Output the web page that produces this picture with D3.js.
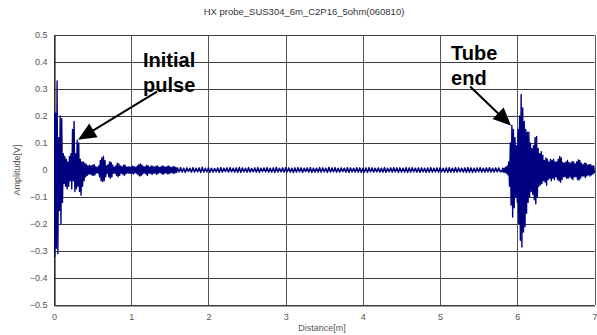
<!DOCTYPE html>
<html><head><meta charset="utf-8">
<script src="https://cdn.jsdelivr.net/npm/d3@7"></script>
<style>body{margin:0;background:#fff}svg{display:block}</style>
</head><body>
<svg id="chart" width="597" height="335"></svg>
<script>
// ---------- data ----------
const chartTitle = "HX probe_SUS304_6m_C2P16_5ohm(060810)";
const xLabel = "Distance[m]";
const yLabel = "Amplitude[V]";
const xTicks = [0, 1, 2, 3, 4, 5, 6, 7];
const yTicks = [-0.5, -0.4, -0.3, -0.2, -0.1, 0, 0.1, 0.2, 0.3, 0.4, 0.5];

// waveform samples (mV); each block: start distance [m], sample step [m]
const pulseStart = 0, pulseStep = 0.01;
const pulseMv = [
 220,-320,210,-290,330,-310,120,-150,200,-200,
 190,-120,60,-50,50,-60,40,-70,30,-60,
 50,-40,60,-70,150,-40,180,-80,60,-70,
 110,-60,100,-80,40,-93,30,-60,30,-40,
 25,-25,20,-20,15,-15,18,-15,15,-18,
 18,-20,20,-18,12,-10,10,-12,15,-25,
 35,-40,45,-43,50,-40,35,-25,15,-12,
 20,-25,30,-30,28,-25,18,-12,10,-12,
 15,-20,25,-25,22,-20,15,-12,12,-15,
 18,-20,18,-15,10,-10,12,-12,10,-12,
 12,-12,14,-15,12,-10,10,-12,15,-18,
 20,-22,22,-20,18,-15,12,-10,12,-15,
 18,-20,15,-12,10,-12,15,-16,14,-12,
 10,-12,14,-16,15,-12,10,-9,10,-12,
 15,-16,14,-12,10,-10,12,-14,15,-14,
 12,-10,9,-10,12,-13,12,-10,9,-9
];
const quietStart = 1.6, quietStep = 0.02;
const quietMv = [
 8,-7,9,-8,7,-9,8,-6,7,-8,
 9,-8,7,-7,8,-9,10,-8,7,-7,
 8,-9,7,-8,6,-7,8,-9,9,-8,
 7,-6,8,-8,9,-7,7,-8,8,-9,
 10,-9,8,-7,7,-8,9,-8,6,-7,
 8,-8,9,-9,7,-6,8,-7,9,-8,
 7,-8,8,-9,10,-8,7,-7,8,-8,
 9,-7,8,-8,7,-9,8,-8,9,-7,
 8,-9,7,-6,8,-8,9,-9,7,-8,
 7,-8,9,-8,8,-7,7,-9,10,-8,
 8,-7,9,-8,7,-8,8,-6,7,-8,
 9,-9,8,-7,7,-8,9,-8,8,-9,
 7,-8,8,-9,9,-7,8,-8,7,-7,
 8,-8,7,-8,9,-9,7,-7,8,-8,
 9,-7,8,-9,8,-8,7,-8,9,-9,
 8,-8,9,-7,7,-8,8,-9,8,-7,
 7,-9,8,-8,9,-8,7,-7,8,-8,
 8,-7,7,-8,8,-9,9,-8,7,-8,
 9,-8,8,-7,7,-8,8,-9,9,-8,
 8,-9,7,-8,8,-7,9,-8,7,-8,
 8,-7,9,-8,7,-8,8,-7,8,-7
];
const echoStart = 5.8, echoStep = 0.01;
const echoMv = [
 -6,7,-8,7,-9,10,-12,15,-18,30,
 -60,100,-130,165,-174,150,-140,120,-100,90,
 -120,150,-200,200,-260,280,-285,230,-230,180,
 -210,150,-160,140,-120,140,-100,100,-80,80,
 -90,90,-110,120,-125,124,-100,80,-60,60,
 -55,68,-50,55,-40,35,-45,45,-56,40,
 -35,30,-30,40,-40,35,-30,40,-35,30,
 -25,30,-35,40,-40,50,-45,45,-35,28,
 -25,25,-25,30,-30,35,-30,28,-25,25,
 -30,32,-35,30,-25,22,-25,30,-35,37,
 -37,35,-30,25,-22,20,-22,25,-28,25,
 -22,18,-18,20,-22,20,-18,15,-15,15,
 -12
];

// annotations in data coordinates (distance m, amplitude V)
const annotationText = [["Initial", "pulse"], ["Tube", "end"]];
const annotationAnchor = [[1.153, 0.383], [5.143, 0.409]];
const arrowFrom = [[1.334, 0.290], [5.389, 0.309]];
const arrowTo = [[0.311, 0.112], [5.920, 0.164]];

// ---------- drawing ----------
const svg = d3.select("#chart");
const L = 54, R = 594.5, T = 35, B = 305;
const x = d3.scaleLinear().domain([0, 7]).range([L, R]);
const y = d3.scaleLinear().domain([-0.5, 0.5]).range([B, T]);
const font = "'Liberation Sans', Arial, sans-serif";
const crisp = v => Math.round(v) + 0.5;

svg.append("rect").attr("width", 597).attr("height", 335).attr("fill", "#fff");

svg.append("text").attr("x", 304).attr("y", 15).attr("text-anchor", "middle")
  .attr("font-family", font).attr("font-size", 9.5).attr("fill", "#333").text(chartTitle);

// grid
const g = svg.append("g");
g.selectAll("line.h").data(yTicks).join("line").attr("class", "h")
  .attr("x1", L).attr("x2", R).attr("y1", d => crisp(y(d))).attr("y2", d => crisp(y(d)))
  .attr("stroke", "#3a3a3a").attr("stroke-width", 1);
g.selectAll("line.v").data(xTicks).join("line").attr("class", "v")
  .attr("y1", T).attr("y2", B).attr("x1", d => crisp(x(d))).attr("x2", d => crisp(x(d)))
  .attr("stroke", "#555").attr("stroke-width", 1);

// axes
const yAxis = d3.axisLeft(y).tickValues(yTicks).tickSize(0).tickPadding(7)
  .tickFormat(d => d === 0 ? "0" : d3.format(".1f")(d).replace("-", "\u2212"));
const ya = svg.append("g").attr("transform", `translate(${crisp(L)},0)`).call(yAxis);
ya.select(".domain").attr("stroke", "#000");
ya.selectAll("text").attr("font-family", font).attr("font-size", 9).attr("fill", "#555");

const xAxis = d3.axisBottom(x).tickValues(xTicks).tickSize(0).tickPadding(8).tickFormat(d3.format("d"));
const xa = svg.append("g").attr("transform", `translate(0,${crisp(B)})`).call(xAxis);
xa.select(".domain").attr("stroke", "#444");
xa.selectAll("text").attr("font-family", font).attr("font-size", 9).attr("fill", "#555");

svg.append("text").attr("x", 322).attr("y", 331).attr("text-anchor", "middle")
  .attr("font-family", font).attr("font-size", 9).attr("fill", "#555").text(xLabel);
svg.append("text").attr("transform", "translate(20,170) rotate(-90)").attr("text-anchor", "middle")
  .attr("font-family", font).attr("font-size", 9).attr("fill", "#555").text(yLabel);

// waveform
const samples = [];
pulseMv.forEach((v, i) => samples.push([pulseStart + i * pulseStep, v / 1000]));
quietMv.forEach((v, i) => samples.push([quietStart + i * quietStep, v / 1000]));
echoMv.forEach((v, i) => samples.push([echoStart + i * echoStep, v / 1000]));

svg.append("clipPath").attr("id", "clip").append("rect")
  .attr("x", L).attr("y", T - 1).attr("width", R - L + 1).attr("height", B - T + 2);
svg.append("path").datum(samples).attr("clip-path", "url(#clip)")
  .attr("fill", "none").attr("stroke", "#000080").attr("stroke-width", 1.4)
  .attr("stroke-linejoin", "round")
  .attr("d", d3.line().x(d => x(d[0])).y(d => y(d[1])));

// annotations
annotationText.forEach((lines, k) => {
  const [ax, ay] = annotationAnchor[k];
  lines.forEach((t, j) => {
    svg.append("text").attr("x", x(ax)).attr("y", y(ay) + j * 25)
      .attr("font-family", font).attr("font-size", 20).attr("font-weight", "bold")
      .attr("fill", "#000").text(t);
  });
  const x0 = x(arrowFrom[k][0]), y0 = y(arrowFrom[k][1]);
  const x1 = x(arrowTo[k][0]), y1 = y(arrowTo[k][1]);
  const dx = x1 - x0, dy = y1 - y0, len = Math.hypot(dx, dy);
  const ux = dx / len, uy = dy / len, hl = 18, hw = 8;
  const bx = x1 - ux * hl, by = y1 - uy * hl;
  svg.append("line").attr("x1", x0).attr("y1", y0).attr("x2", bx + ux * 2).attr("y2", by + uy * 2)
    .attr("stroke", "#000").attr("stroke-width", 2);
  svg.append("path").attr("fill", "#000")
    .attr("d", `M${x1},${y1}L${bx - uy * hw},${by + ux * hw}L${bx + uy * hw},${by - ux * hw}Z`);
});
</script>
</body></html>
